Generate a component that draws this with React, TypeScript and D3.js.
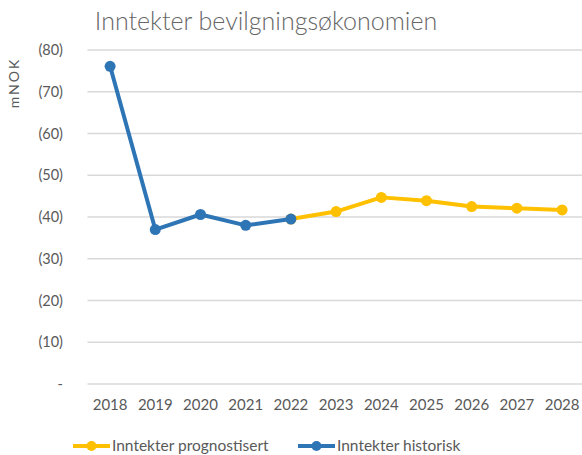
import React from "react";
import * as d3 from "d3";

// values in mNOK, shown as negatives (parentheses) on the axis
const years = ["2018", "2019", "2020", "2021", "2022", "2023", "2024", "2025", "2026", "2027", "2028"];
const historisk = [-76.1, -37.0, -40.6, -38.0, -39.5, null, null, null, null, null, null];
const prognostisert = [null, null, null, null, -39.5, -41.3, -44.7, -43.9, -42.5, -42.1, -41.7];
const yTicks = [0, -10, -20, -30, -40, -50, -60, -70, -80];

const title = "Inntekter bevilgningsøkonomien";
const yTitle = "mNOK";
const legendNames = ["Inntekter prognostisert", "Inntekter historisk"];

const blue = "#2E75B6";
const yellow = "#FFC000";
const grey = "#595959";
const font = "Lato, 'Open Sans', sans-serif";

const W = 582;
const H = 455;

const App = () => {
  const x = d3.scaleBand().domain(years).range([87.5, 584.7]);
  const y = d3.scaleLinear().domain([0, -80]).range([384, 50]);
  const cx = (i: number) => (x(years[i]) as number) + x.bandwidth() / 2;

  const line = d3
    .line<number | null>()
    .defined((d) => d !== null)
    .x((d, i) => cx(i))
    .y((d) => y(d as number));

  const fmt = (v: number) => (v === 0 ? "-" : `(${Math.abs(v)})`);

  const series = [
    { name: legendNames[0], data: prognostisert, color: yellow },
    { name: legendNames[1], data: historisk, color: blue },
  ];

  const legendX = [73, 298];

  return (
    <svg width={W} height={H} style={{ position: "absolute", left: 0, top: 0, background: "#fff" }} fontFamily={font}>
      <text x={266} y={30} textAnchor="middle" fontSize={25} fontWeight={300} fill="#666">
        {title}
      </text>
      <text transform={`translate(19,83) rotate(-90)`} textAnchor="middle" fontSize={14} fill={grey} letterSpacing={2}>
        {yTitle}
      </text>

      {yTicks.map((t) => (
        <g key={t}>
          <line x1={87.5} x2={W} y1={y(t)} y2={y(t)} stroke="#d9d9d9" strokeWidth={1.3} />
          <text x={63} y={y(t)} dy="0.35em" textAnchor="end" fontSize={14.5} fill={grey}>
            {fmt(t)}
          </text>
        </g>
      ))}

      {years.map((yr, i) => (
        <text key={yr} x={cx(i)} y={410} textAnchor="middle" fontSize={15} fill={grey}>
          {yr}
        </text>
      ))}

      {series.map((s) => (
        <g key={s.name}>
          <path d={line(s.data) || ""} fill="none" stroke={s.color} strokeWidth={4} strokeLinejoin="round" />
          {s.data.map((v, i) =>
            v === null ? null : <circle key={i} cx={cx(i)} cy={y(v)} r={5.5} fill={s.color} />
          )}
        </g>
      ))}

      {series.map((s, k) => (
        <g key={s.name} transform={`translate(${legendX[k]},446)`}>
          <line x1={0} x2={37} y1={0} y2={0} stroke={s.color} strokeWidth={4} />
          <circle cx={18.5} cy={0} r={5} fill={s.color} />
          <text x={39} y={0} dy="0.35em" fontSize={15.5} fill={grey}>
            {s.name}
          </text>
        </g>
      ))}
    </svg>
  );
};

export default App;
